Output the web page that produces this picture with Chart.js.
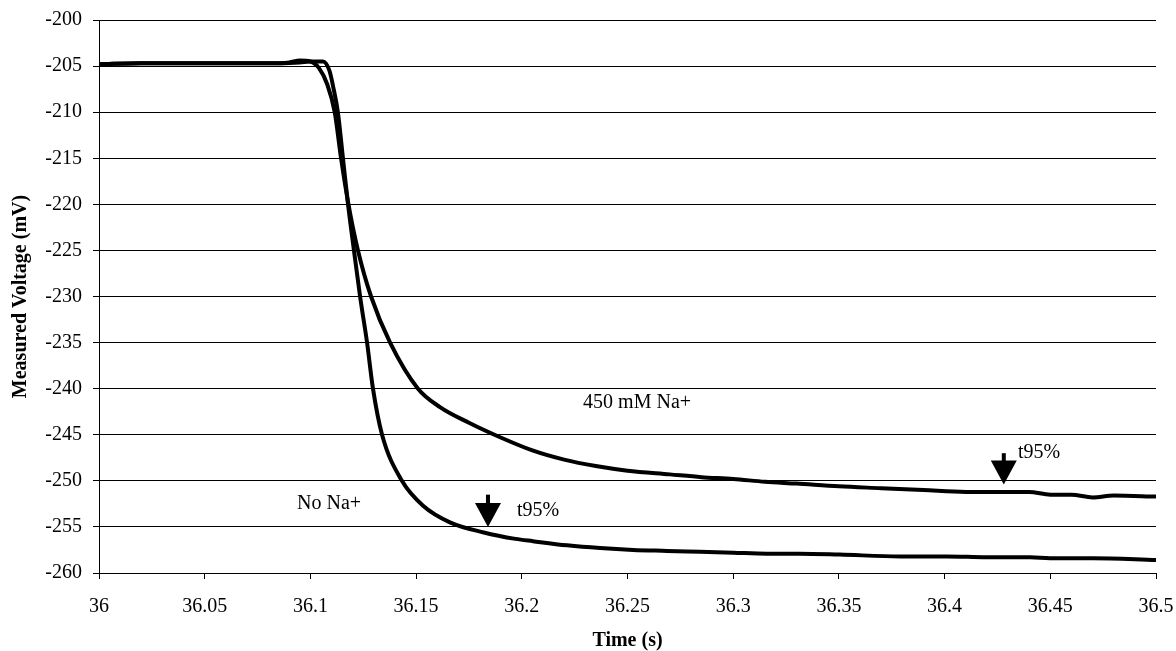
<!DOCTYPE html>
<html>
<head>
<meta charset="utf-8">
<script src="https://cdn.jsdelivr.net/npm/chart.js@4.4.0/dist/chart.umd.min.js"></script>
<style>
body { margin: 0; background: #fff; }
</style>
</head>
<body>
<canvas id="chart" width="1176" height="651"></canvas>
<script>
// time (s) and measured voltage (mV), No Na+
var timeNoNa = [36.000, 36.020, 36.040, 36.060, 36.080, 36.095, 36.100, 36.106, 36.109, 36.111,
    36.113, 36.1154, 36.1178, 36.1206, 36.1235, 36.1268, 36.1296, 36.1339, 36.1433, 36.1533,
    36.166, 36.182, 36.197, 36.2053, 36.2214, 36.237, 36.2526, 36.2687, 36.2843, 36.300,
    36.316, 36.3316, 36.3505, 36.379, 36.401, 36.420, 36.4404, 36.4499, 36.4702, 36.500];
var voltNoNa = [-204.8, -204.7, -204.7, -204.7, -204.7, -204.6, -204.5, -204.5, -205.5, -207.5,
    -210, -215, -220, -225, -230, -235, -240, -245, -250, -252.7,
    -254.5, -255.6, -256.3, -256.55, -257.0, -257.3, -257.5, -257.6, -257.7, -257.8,
    -257.9, -257.9, -258.0, -258.2, -258.2, -258.3, -258.3, -258.4, -258.4, -258.6];

// time (s) and measured voltage (mV), 450 mM Na+
var time450 = [36.000, 36.020, 36.040, 36.060, 36.080, 36.090, 36.095, 36.100, 36.104, 36.108,
    36.1115, 36.1145, 36.118, 36.1225, 36.1287, 36.1377, 36.1509, 36.1613, 36.175,
    36.190, 36.205, 36.220, 36.235, 36.250, 36.270, 36.285, 36.300, 36.315, 36.330,
    36.350, 36.370, 36.390, 36.410, 36.430, 36.440, 36.450, 36.460, 36.470, 36.480, 36.500];
var volt450 = [-204.8, -204.7, -204.7, -204.7, -204.7, -204.6, -204.4, -204.5, -205.2, -207.0,
    -210, -215, -220, -225, -230, -235, -240, -242.0, -243.7,
    -245.3, -246.7, -247.7, -248.4, -248.9, -249.3, -249.6, -249.8, -250.1, -250.3,
    -250.6, -250.8, -251.0, -251.2, -251.2, -251.2, -251.5, -251.5, -251.8, -251.6, -251.7];

// text notes on the plot (data coordinates, baseline)
var noteText = ['450 mM Na+', 'No Na+', 't95%', 't95%'];
var noteTime = [36.229, 36.0937, 36.1977, 36.4347];
var noteVolt = [-242.1, -253.1, -253.8, -247.5];

// t95% arrows
var arrowTime = [36.184, 36.428];
var arrowTop = [-251.5, -247.0];
var arrowTip = [-255.0, -250.4];

var serif = '"Liberation Serif", "Times New Roman", serif';

function toPoints(xs, ys) {
    return xs.map(function (x, i) { return {x: x, y: ys[i]}; });
}

var notesPlugin = {
    id: 'notes',
    afterDatasetsDraw: function (chart) {
        var ctx = chart.ctx;
        var xs = chart.scales.x, ys = chart.scales.y;
        ctx.save();
        ctx.fillStyle = '#000';
        ctx.font = '20px ' + serif;
        ctx.textAlign = 'left';
        ctx.textBaseline = 'alphabetic';
        for (var i = 0; i < noteText.length; i++) {
            ctx.fillText(noteText[i], xs.getPixelForValue(noteTime[i]), ys.getPixelForValue(noteVolt[i]));
        }
        for (var j = 0; j < arrowTime.length; j++) {
            var ax = xs.getPixelForValue(arrowTime[j]);
            var top = ys.getPixelForValue(arrowTop[j]);
            var tip = ys.getPixelForValue(arrowTip[j]);
            var headTop = tip - 24;
            ctx.fillRect(ax - 2, top, 4, headTop - top + 1);
            ctx.beginPath();
            ctx.moveTo(ax - 13, headTop);
            ctx.lineTo(ax + 13, headTop);
            ctx.lineTo(ax, tip);
            ctx.closePath();
            ctx.fill();
        }
        ctx.restore();
    }
};

new Chart(document.getElementById('chart'), {
    type: 'line',
    data: {
        datasets: [{
            label: 'No Na+',
            data: toPoints(timeNoNa, voltNoNa),
            borderColor: '#000',
            borderWidth: 4,
            pointRadius: 0,
            cubicInterpolationMode: 'monotone',
            fill: false
        }, {
            label: '450 mM Na+',
            data: toPoints(time450, volt450),
            borderColor: '#000',
            borderWidth: 4,
            pointRadius: 0,
            cubicInterpolationMode: 'monotone',
            fill: false
        }]
    },
    options: {
        responsive: false,
        animation: false,
        layout: { padding: { left: 0, top: 20, right: 20, bottom: 0 } },
        plugins: {
            legend: { display: false },
            tooltip: { enabled: false }
        },
        scales: {
            x: {
                type: 'linear',
                min: 36,
                max: 36.5,
                afterFit: function (scale) {
                    scale.height = 78;
                    scale.paddingLeft = 0;
                    scale.paddingRight = 0;
                },
                ticks: {
                    stepSize: 0.05,
                    color: '#000',
                    padding: 16,
                    maxRotation: 0,
                    font: { family: serif, size: 20 },
                    callback: function (v) { return String(Number(v.toFixed(2))); }
                },
                grid: {
                    drawOnChartArea: false,
                    color: '#000',
                    tickColor: '#000',
                    tickLength: 6
                },
                border: { color: '#000', width: 1 },
                title: {
                    display: true,
                    text: 'Time (s)',
                    color: '#000',
                    font: { family: serif, size: 20, weight: 'bold', lineHeight: 1 },
                    padding: { top: 0, bottom: 0 }
                }
            },
            y: {
                min: -260,
                max: -200,
                afterFit: function (scale) {
                    scale.width = 99;
                    scale.paddingTop = 0;
                    scale.paddingBottom = 0;
                },
                ticks: {
                    stepSize: 5,
                    color: '#000',
                    padding: 11,
                    font: { family: serif, size: 20 }
                },
                grid: {
                    color: '#000',
                    lineWidth: 1,
                    tickColor: '#000',
                    tickLength: 6
                },
                border: { color: '#000', width: 1 },
                title: {
                    display: true,
                    text: 'Measured Voltage (mV)',
                    color: '#000',
                    font: { family: serif, size: 20, weight: 'bold', lineHeight: 1 },
                    padding: { top: 11, bottom: 0 }
                }
            }
        }
    },
    plugins: [notesPlugin]
});
</script>
</body>
</html>
